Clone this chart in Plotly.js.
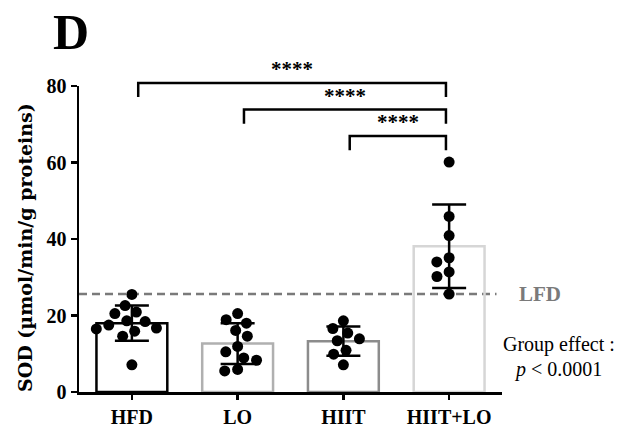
<!DOCTYPE html>
<html><head><meta charset="utf-8">
<script src="https://cdn.plot.ly/plotly-3.0.1.min.js"></script>
<style>html,body{margin:0;padding:0;background:#fff}#chart{width:619px;height:428px}</style>
</head><body><div id="chart"></div>
<script>
// ---- data ----
const groups = ['HFD', 'LO', 'HIIT', 'HIIT+LO'];
const means = [18.0, 12.65, 13.3, 38.1];
const sds = [4.6, 5.3, 3.8, 10.9];
const hfdPoints = [25.5, 22.6, 20.9, 20.5, 18.6, 18.4, 17.5, 16.7, 16.5, 15.9, 14.6, 7.1];
const loPoints = [20.5, 18.9, 18.0, 16.1, 14.6, 11.9, 10.5, 8.9, 8.3, 5.9, 5.5];
const hiitPoints = [18.6, 16.6, 15.4, 13.9, 13.4, 10.9, 9.9, 7.1];
const hiitLoPoints = [60.1, 45.9, 40.9, 35.1, 34.0, 31.4, 30.2, 25.6];
const lfdMean = 25.6;
const compFrom = ['HFD', 'LO', 'HIIT'];
const compTo = ['HIIT+LO', 'HIIT+LO', 'HIIT+LO'];
const compLabels = ['****', '****', '****'];
const yTicks = [0, 20, 40, 60, 80];
const yTitle = 'SOD (µmol/min/g proteins)';

// ---- layout constants ----
const W = 619, H = 428;
const M = {l: 79, r: 117, t: 86, b: 36};
const xr = [-0.5, 3.5], yr = [0, 80];
const PW = W - M.l - M.r, PH = H - M.t - M.b;
const PX = PW / (xr[1] - xr[0]);
const PY = PH / (yr[1] - yr[0]);
const DOT = 11;
const SERIF = 'Liberation Serif, Times New Roman, serif';
const WIDE_SERIF = 'DejaVu Serif, Liberation Serif, serif';
const barLineColors = ['#000000', '#b0b0b0', '#8c8c8c', '#d6d6d6'];
const pxX = px => (px - M.l) / PW;          // page pixel -> paper x
const pxY = py => (H - M.b - py) / PH;      // page pixel -> paper y

function swarm(vals, center) {
  const placed = [], xs = new Array(vals.length);
  const order = vals.map((v, i) => i).sort((a, b) => vals[b] - vals[a]);
  const D = DOT + 2;
  for (const i of order) {
    const y = vals[i] * PY;
    const iv = [];
    for (const p of placed) {
      const dy = Math.abs(p.y - y);
      if (dy < D) { const w = Math.sqrt(D * D - dy * dy); iv.push([p.x - w, p.x + w]); }
    }
    const cands = [0];
    iv.forEach(r => cands.push(r[0], r[1]));
    cands.sort((a, b) => Math.abs(a) - Math.abs(b) || a - b);
    let x = 0;
    for (const c of cands) {
      if (iv.every(r => c <= r[0] + 1e-6 || c >= r[1] - 1e-6)) { x = c; break; }
    }
    placed.push({x, y});
    xs[i] = center + x / PX;
  }
  return xs;
}

const allPoints = [hfdPoints, loPoints, hiitPoints, hiitLoPoints];
const idx = groups.map((g, i) => i);

const traces = [{
  type: 'bar', x: idx, y: means, width: 0.67,
  marker: {color: 'rgba(255,255,255,0)', line: {color: barLineColors, width: 2.5}},
  error_y: {type: 'data', array: sds, visible: true, color: '#000', thickness: 2.5, width: 17},
  hoverinfo: 'skip', showlegend: false
}];
allPoints.forEach((pts, g) => {
  traces.push({
    type: 'scatter', mode: 'markers', x: swarm(pts, g), y: pts,
    marker: {color: '#000', size: DOT}, cliponaxis: false, showlegend: false, hoverinfo: 'skip'
  });
});

const xp = v => (v - xr[0]) / (xr[1] - xr[0]);
const yp = v => (v - yr[0]) / (yr[1] - yr[0]);

const shapes = [{
  type: 'line', xref: 'paper', yref: 'y', x0: 0, x1: 0.987, y0: lfdMean, y1: lfdMean,
  line: {color: '#7a7a7a', width: 2.5, dash: '8px,5px'}, layer: 'below'
}];
const annotations = [];
const drop = 3.7;
compFrom.forEach((f, k) => {
  const a = groups.indexOf(f) + 0.06, b = groups.indexOf(compTo[k]) - 0.03;
  const yTop = 80.8 - k * 6.95;
  shapes.push({
    type: 'path', xref: 'paper', yref: 'paper',
    path: `M${xp(a)},${yp(yTop - drop)} L${xp(a)},${yp(yTop)} L${xp(b)},${yp(yTop)} L${xp(b)},${yp(yTop - drop)}`,
    line: {color: '#000', width: 2.5}
  });
  annotations.push({
    xref: 'paper', yref: 'paper', x: xp((a + b) / 2), y: yp(yTop), yanchor: 'bottom', xanchor: 'center',
    text: compLabels[k], showarrow: false,
    font: {family: SERIF, size: 21, color: '#000', weight: 'bold'}
  });
});
annotations.push({
  xref: 'paper', yref: 'y', x: pxX(540), y: lfdMean, xanchor: 'center', yanchor: 'middle',
  text: 'LFD', showarrow: false, font: {family: SERIF, size: 21, color: '#7a7a7a', weight: 'bold'}
});
annotations.push({
  xref: 'paper', yref: 'paper', x: pxX(559), y: pxY(344),
  xanchor: 'center', yanchor: 'middle', text: 'Group effect :', showarrow: false,
  font: {family: SERIF, size: 20, color: '#000'}
});
annotations.push({
  xref: 'paper', yref: 'paper', x: pxX(558), y: pxY(369),
  xanchor: 'center', yanchor: 'middle', text: '<i>p</i> < 0.0001', showarrow: false,
  font: {family: SERIF, size: 20, color: '#000'}
});
annotations.push({
  xref: 'paper', yref: 'paper', x: pxX(71), y: pxY(32),
  xanchor: 'center', yanchor: 'middle', text: 'D', showarrow: false,
  font: {family: SERIF, size: 50, color: '#000', weight: 'bold'}
});
annotations.push({
  xref: 'paper', yref: 'paper', x: pxX(25), y: pxY(248), textangle: -90,
  xanchor: 'center', yanchor: 'middle', text: yTitle, showarrow: false,
  font: {family: WIDE_SERIF, size: 19, color: '#000', weight: 'bold'}
});

const layout = {
  width: W, height: H, margin: M, paper_bgcolor: '#fff', plot_bgcolor: '#fff',
  showlegend: false, bargap: 0,
  xaxis: {
    range: xr, tickvals: idx, ticktext: groups, showgrid: false, zeroline: false,
    showline: true, linecolor: '#000', linewidth: 2.5, ticks: 'outside', ticklen: 5, tickwidth: 2.5, tickcolor: '#000',
    tickfont: {family: SERIF, size: 20, color: '#000', weight: 'bold'}, fixedrange: true
  },
  yaxis: {
    range: yr, tickvals: yTicks, showgrid: false, zeroline: false,
    showline: true, linecolor: '#000', linewidth: 2.5, ticks: 'outside', ticklen: 6, tickwidth: 2.5, tickcolor: '#000',
    tickfont: {family: SERIF, size: 20, color: '#000', weight: 'bold'}, fixedrange: true
  },
  shapes: shapes, annotations: annotations
};
Plotly.newPlot('chart', traces, layout, {staticPlot: true, displayModeBar: false});
</script></body></html>
